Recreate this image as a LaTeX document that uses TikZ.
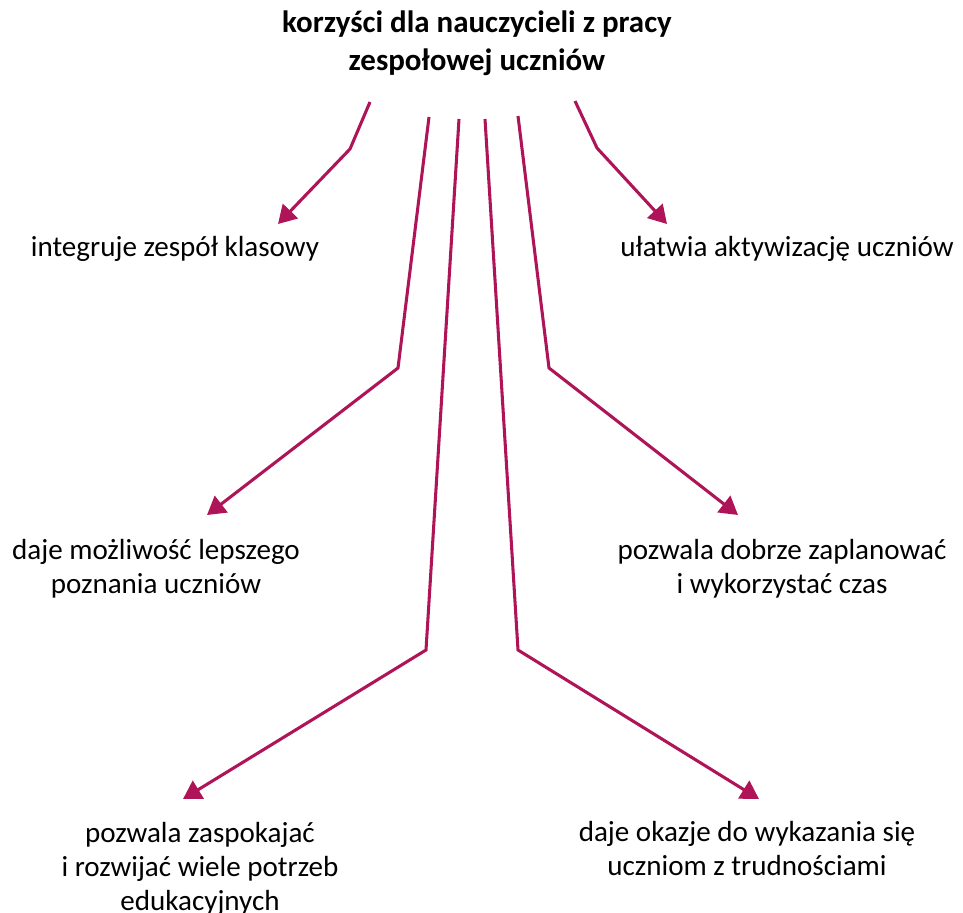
\documentclass[tikz,border=0pt]{standalone}
\usepackage{fontspec}
\setmainfont{Carlito}
\usepackage{xcolor}
\usetikzlibrary{arrows.meta}
\definecolor{strzalka}{RGB}{176,20,88}
\tikzset{
  tekst/.style={align=center,inner sep=0pt,font=\fontsize{21.8}{25.5}\selectfont},
  tytul/.style={align=center,inner sep=0pt,font=\bfseries\fontsize{23.2}{28.5}\selectfont},
  strz/.style={draw=strzalka,line width=2.3pt,line join=miter,
    -{Triangle[length=13.5pt,width=15.5pt]}}
}
\begin{document}
\begin{tikzpicture}[x=0.75pt,y=-0.75pt]
    \useasboundingbox (0,0) rectangle (963,913);
    \node[tytul] (tytul) at (477,43) {korzyści dla nauczycieli z pracy\\zespołowej uczniów};
    \node[tekst] (integruje) at (175,249) {integruje zespół klasowy};
    \node[tekst] (ulatwia) at (787,249) {ułatwia aktywizację uczniów};
    \node[tekst] (mozliwosc) at (156,569) {daje możliwość lepszego\\poznania uczniów};
    \node[tekst] (planowac) at (782,569) {pozwala dobrze zaplanować\\i wykorzystać czas};
    \node[tekst] (potrzeby) at (200,869) {pozwala zaspokajać\\i rozwijać wiele potrzeb\\edukacyjnych};
    \node[tekst] (okazje) at (747,849) {daje okazje do wykazania się\\uczniom z trudnościami};
    % punkty strzalek
    \coordinate (s1) at (370,102); \coordinate (z1) at (350,149); \coordinate (k1) at (278,224);
    \coordinate (s2) at (575,101); \coordinate (z2) at (597,148); \coordinate (k2) at (667,224);
    \coordinate (s3) at (429,117); \coordinate (z3) at (398,368); \coordinate (k3) at (207,515);
    \coordinate (s4) at (518,116); \coordinate (z4) at (549,368); \coordinate (k4) at (738,515);
    \coordinate (s5) at (459,119); \coordinate (z5) at (426,650); \coordinate (k5) at (183,799);
    \coordinate (s6) at (485,119); \coordinate (z6) at (518,650); \coordinate (k6) at (759,799);
    \foreach \i in {1,...,6}
        \draw[strz] (s\i) -- (z\i) -- (k\i);
\end{tikzpicture}
\end{document}
